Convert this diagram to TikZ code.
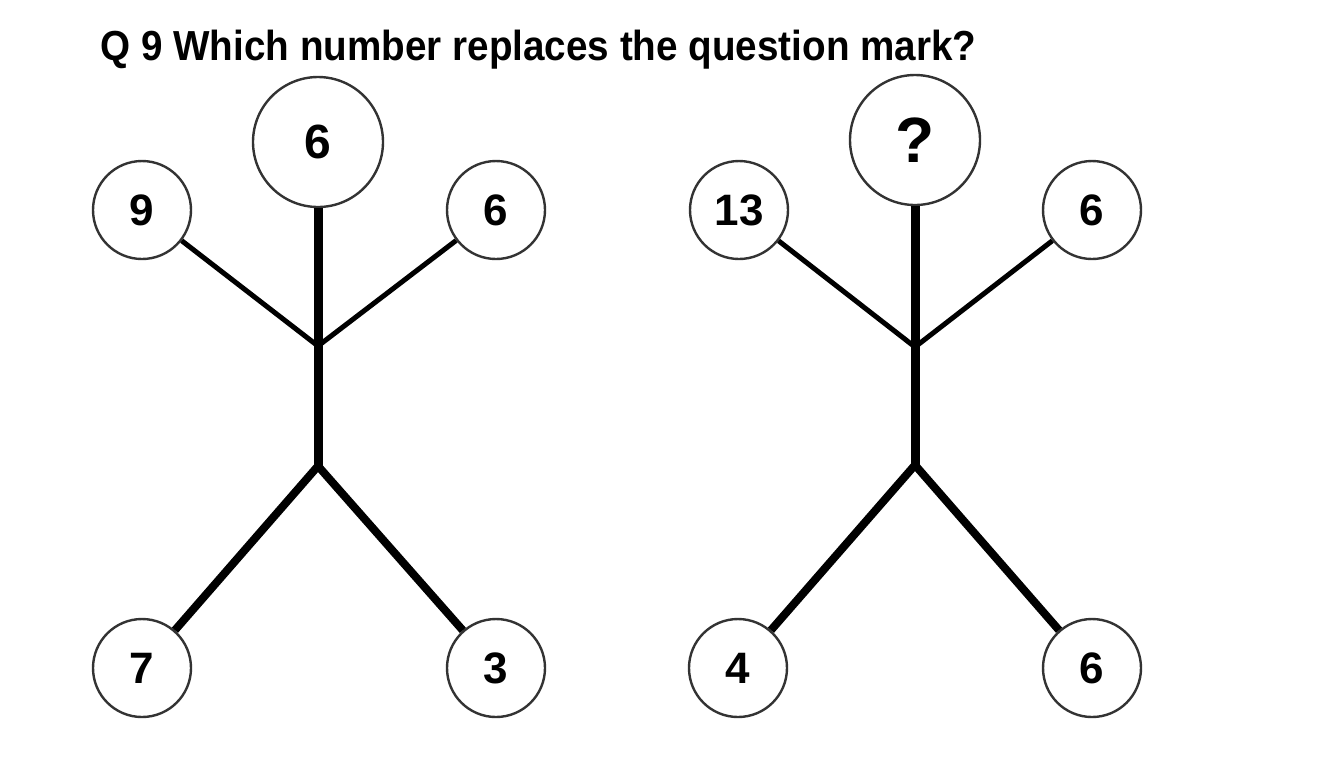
\documentclass[tikz,border=0pt]{standalone}
\usepackage{fontspec}
\setmainfont{Liberation Sans}
\newfontfamily\titlefont[FakeStretch=0.92]{Liberation Sans}
\usetikzlibrary{positioning}
\tikzstyle{ball}=[circle,draw=black!80,line width=1.2pt,fill=white,minimum size=49pt,inner sep=0pt,font=\fontsize{22}{22}\selectfont\bfseries]
\tikzstyle{head}=[ball,minimum size=65pt,font=\fontsize{24}{24}\selectfont\bfseries]
\tikzstyle{arm}=[line width=2.5pt]
\tikzstyle{trunk}=[line width=4.5pt]
\tikzstyle{leg}=[line width=4pt]

\begin{document}
\begin{tikzpicture}[x=0.5pt,y=-0.5pt]
\useasboundingbox (0,0) rectangle (1344,768);
\node[anchor=base west,inner sep=0pt,font=\titlefont\fontsize{21}{21}\selectfont\bfseries] (T) at (100,60) {Q 9 Which number replaces the question mark?};
% left figure
\coordinate (N1) at (318,346);
\coordinate (P1) at (318,466);
\node[head] (A) at (318,142) {6};
\node[ball] (B) at (142,210) {9};
\node[ball] (C) at (496,210) {6};
\node[ball] (D) at (142,668) {7};
\node[ball] (E) at (496,668) {3};
\draw[trunk] (A) -- (P1);
\draw[arm] (B) -- (N1) -- (C);
\draw[leg] (D) -- (P1) -- (E);
% right figure
\coordinate (N2) at (915,347);
\coordinate (P2) at (915,465);
\node[head,font=\fontsize{32}{32}\selectfont\bfseries] (F) at (915,140) {?};
\node[ball] (G) at (739,210) {13};
\node[ball] (H) at (1092,210) {6};
\node[ball] (I) at (738,668) {4};
\node[ball] (J) at (1092,668) {6};
\draw[trunk] (F) -- (P2);
\draw[arm] (G) -- (N2) -- (H);
\draw[leg] (I) -- (P2) -- (J);
\end{tikzpicture}
\end{document}
